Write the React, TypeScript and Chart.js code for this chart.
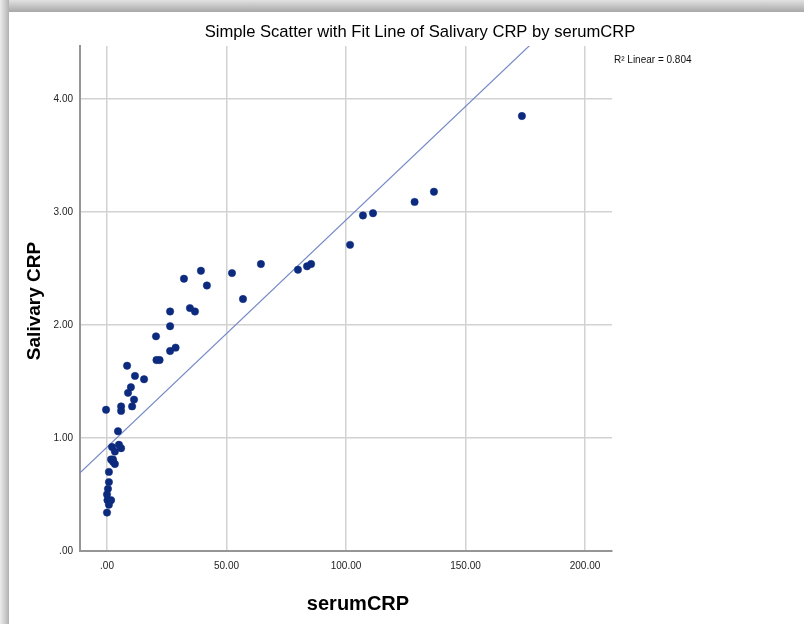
import React, { useEffect, useRef } from "react";
import { Chart, registerables } from "chart.js";

Chart.register(...registerables);

// ---- data ----
const serumCRP = [
  173.6, 136.8, 128.7, 111.3, 107.1, 101.7, 85.4, 83.7, 79.9, 64.4,
  52.3, 56.9, 39.3, 41.8, 32.2, 34.7, 36.8, 26.4, 26.4, 20.5,
  26.4, 28.7, 20.7, 22.0, 8.4, 11.7, 15.5, 10.0, 8.8, 11.3,
  10.5, 5.9, 5.9, -0.4, 4.6, 2.1, 5.0, 5.9, 3.3, 1.7,
  2.5, 3.3, 2.5, 0.8, 0.8, 0.4, 0.0, 0.2, 1.7, 0.8,
  0.0,
];
const salivaryCRP = [
  3.85, 3.18, 3.09, 2.99, 2.97, 2.71, 2.54, 2.52, 2.49, 2.54,
  2.46, 2.23, 2.48, 2.35, 2.41, 2.15, 2.12, 2.12, 1.99, 1.9,
  1.77, 1.8, 1.69, 1.69, 1.64, 1.55, 1.52, 1.45, 1.4, 1.34,
  1.28, 1.28, 1.24, 1.25, 1.06, 0.92, 0.94, 0.91, 0.88, 0.81,
  0.81, 0.77, 0.79, 0.7, 0.61, 0.55, 0.5, 0.45, 0.45, 0.41,
  0.34,
];
const xTicks = [0, 50, 100, 150, 200];
const yTicks = [0, 1, 2, 3, 4];
const fitIntercept = 0.92;
const fitSlope = 0.0201;
const rSquared = 0.804;
const xMin = -11.3;
const xMax = 211.3;
const yMin = 0;
const yMax = 4.47;

const titleText = "Simple Scatter with Fit Line of Salivary CRP by serumCRP";
const xTitle = "serumCRP";
const yTitle = "Salivary CRP";

const SANS = "'Liberation Sans', Arial, sans-serif";

const fmt = (v: number) => (v === 0 ? ".00" : Number(v).toFixed(2));

export default function App() {
  const ref = useRef<HTMLCanvasElement>(null);

  useEffect(() => {
    document.body.style.margin = "0";
    if (!ref.current) return;

    const textPlugin = {
      id: "texts",
      afterDraw(chart: any) {
        const ctx = chart.ctx as CanvasRenderingContext2D;
        ctx.save();
        ctx.fillStyle = "#000";
        ctx.textAlign = "center";
        ctx.textBaseline = "middle";
        ctx.font = `16.6px ${SANS}`;
        ctx.fillText(titleText, 420, 32);
        ctx.font = `bold 20px ${SANS}`;
        ctx.fillText(xTitle, 358, 604);
        ctx.save();
        ctx.translate(35, 301);
        ctx.rotate(-Math.PI / 2);
        ctx.font = `bold 19px ${SANS}`;
        ctx.fillText(yTitle, 0, 0);
        ctx.restore();
        ctx.textAlign = "left";
        ctx.font = `10px ${SANS}`;
        ctx.fillStyle = "#111";
        ctx.fillText(`R\u00B2 Linear = ${rSquared.toFixed(3)}`, 614, 60);
        ctx.restore();
      },
    };

    const chart = new Chart(ref.current, {
      type: "scatter",
      data: {
        datasets: [
          {
            data: serumCRP.map((x, i) => ({ x, y: salivaryCRP[i] })),
            backgroundColor: "#0c2b7e",
            borderColor: "#0c2b7e",
            borderWidth: 0.5,
            pointRadius: 3.7,
            order: 1,
          },
          {
            type: "line",
            data: [
              { x: xMin, y: fitIntercept + fitSlope * xMin },
              { x: xMax, y: fitIntercept + fitSlope * xMax },
            ],
            borderColor: "#7489c6",
            borderWidth: 1.2,
            pointRadius: 0,
            fill: false,
            order: 2,
          } as any,
        ],
      },
      options: {
        animation: false,
        responsive: false,
        layout: { padding: { top: 46, right: 192, left: 0, bottom: 0 } },
        plugins: {
          legend: { display: false },
          tooltip: { enabled: false },
        },
        scales: {
          x: {
            type: "linear",
            min: xMin,
            max: xMax,
            afterBuildTicks: (s: any) => {
              s.ticks = xTicks.map((v) => ({ value: v }));
            },
            afterFit: (s: any) => {
              s.height = 73;
            },
            grid: { color: "#d2d2d2", lineWidth: 1.5, drawTicks: false },
            border: { color: "#959595", width: 2 },
            ticks: {
              padding: 9,
              color: "#222",
              font: { family: SANS, size: 10 },
              callback: (v: any) => fmt(v),
            },
          },
          y: {
            type: "linear",
            min: yMin,
            max: yMax,
            afterBuildTicks: (s: any) => {
              s.ticks = yTicks.map((v) => ({ value: v }));
            },
            afterFit: (s: any) => {
              s.width = 80;
            },
            grid: { color: "#d2d2d2", lineWidth: 1.5, drawTicks: false },
            border: { color: "#959595", width: 2 },
            ticks: {
              padding: 7,
              color: "#222",
              font: { family: SANS, size: 10 },
              callback: (v: any) => fmt(v),
            },
          },
        },
      },
      plugins: [textPlugin],
    } as any);

    return () => chart.destroy();
  }, []);

  return (
    <div style={{ position: "relative", width: 804, height: 624, background: "#fff", overflow: "hidden" }}>
      <div
        style={{
          position: "absolute",
          left: 0,
          top: 0,
          width: 804,
          height: 12,
          background: "linear-gradient(to bottom, #e2e2e2, #b9b9b9 70%, #a8a8a8)",
        }}
      />
      <div
        style={{
          position: "absolute",
          left: 0,
          top: 0,
          width: 9,
          height: 624,
          background: "linear-gradient(to right, #ececec, #c4c4c4 70%, #b0b0b0)",
        }}
      />
      <canvas
        ref={ref}
        width={804}
        height={624}
        style={{ position: "absolute", left: 0, top: 0, display: "block" }}
      />
    </div>
  );
}
